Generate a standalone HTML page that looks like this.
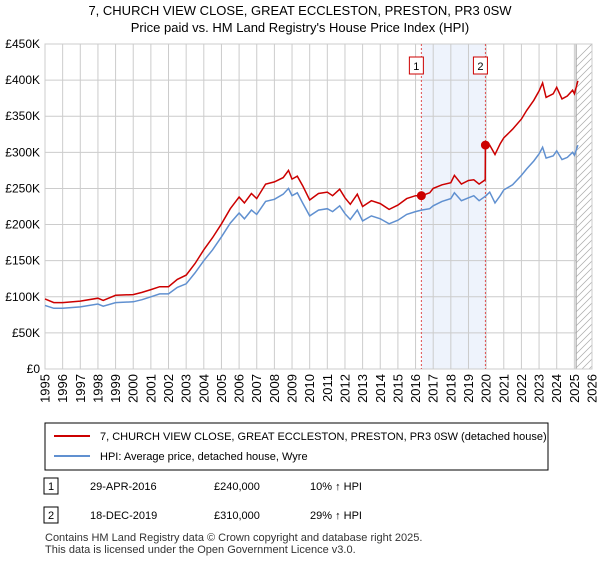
<!DOCTYPE html>
<html><head><meta charset="utf-8"><style>
body{margin:0;background:#fff;font-family:"Liberation Sans",sans-serif;}
svg text{font-family:"Liberation Sans",sans-serif;}
</style></head><body>
<svg width="600" height="560" id="c">
<text x="300" y="15" text-anchor="middle" font-size="13">7, CHURCH VIEW CLOSE, GREAT ECCLESTON, PRESTON, PR3 0SW</text>
<text x="300" y="32" text-anchor="middle" font-size="13">Price paid vs. HM Land Registry's House Price Index (HPI)</text>
<g id="grid"></g><g id="axes"></g><g id="series"></g>
<rect x="45" y="423" width="503" height="47" fill="#fff" stroke="#000"/>
<line x1="54" y1="436" x2="90" y2="436" stroke="#cc0000" stroke-width="2"/>
<text x="100" y="440" font-size="11">7, CHURCH VIEW CLOSE, GREAT ECCLESTON, PRESTON, PR3 0SW (detached house)</text>
<line x1="54" y1="456" x2="90" y2="456" stroke="#6090d0" stroke-width="2"/>
<text x="100" y="460" font-size="11">HPI: Average price, detached house, Wyre</text>
<rect x="44" y="478" width="14" height="16" fill="#fff" stroke="#000"/>
<text x="51" y="490" text-anchor="middle" font-size="11">1</text>
<text x="90" y="490" font-size="11">29-APR-2016</text>
<text x="214" y="490" font-size="11">£240,000</text>
<text x="310" y="490" font-size="11">10% ↑ HPI</text>
<rect x="44" y="507" width="14" height="16" fill="#fff" stroke="#000"/>
<text x="51" y="519" text-anchor="middle" font-size="11">2</text>
<text x="90" y="519" font-size="11">18-DEC-2019</text>
<text x="214" y="519" font-size="11">£310,000</text>
<text x="310" y="519" font-size="11">29% ↑ HPI</text>
<text x="45" y="541" font-size="11" fill="#333">Contains HM Land Registry data © Crown copyright and database right 2025.</text>
<text x="45" y="553" font-size="11" fill="#333">This data is licensed under the Open Government Licence v3.0.</text>
</svg>
<script>
const yTicks=[0,50,100,150,200,250,300,350,400,450];
const yLabels=["£0","£50K","£100K","£150K","£200K","£250K","£300K","£350K","£400K","£450K"];
const hpiT=[1995,1995.5,1996,1997,1998,1998.3,1999,2000,2000.5,2001,2001.5,2002,2002.5,2003,2003.5,2004,2004.5,2005,2005.5,2006,2006.3,2006.7,2007,2007.5,2008,2008.5,2008.8,2009,2009.3,2009.6,2010,2010.5,2011,2011.3,2011.7,2012,2012.3,2012.7,2013,2013.5,2014,2014.5,2015,2015.5,2016,2016.33,2016.8,2017,2017.5,2018,2018.2,2018.6,2019,2019.3,2019.6,2020,2020.2,2020.5,2020.8,2021,2021.5,2022,2022.3,2022.7,2023,2023.2,2023.4,2023.8,2024,2024.3,2024.6,2024.9,2025,2025.2];
const hpiV=[88,84,84,86,90,87,92,93,96,100,104,104,113,118,133,150,165,183,202,216,208,220,214,232,235,242,250,240,244,230,212,220,222,218,226,215,207,220,205,212,208,201,206,214,218,220,222,226,232,236,244,233,237,240,233,240,245,230,240,248,255,268,277,288,298,307,292,295,302,290,293,300,296,310];
const ppT=[1995,1995.5,1996,1997,1998,1998.3,1999,2000,2000.5,2001,2001.5,2002,2002.5,2003,2003.5,2004,2004.5,2005,2005.5,2006,2006.3,2006.7,2007,2007.5,2008,2008.5,2008.8,2009,2009.3,2009.6,2010,2010.5,2011,2011.3,2011.7,2012,2012.3,2012.7,2013,2013.5,2014,2014.5,2015,2015.5,2016,2016.33,2016.8,2017,2017.5,2018,2018.2,2018.6,2019,2019.3,2019.6,2019.95,2019.96,2020.2,2020.5,2020.8,2021,2021.5,2022,2022.3,2022.7,2023,2023.2,2023.4,2023.8,2024,2024.3,2024.6,2024.9,2025,2025.2];
const ppV=[97,92,92,94,98,95,102,103,106,110,114,114,124,130,146,165,182,201,222,238,230,243,236,256,259,265,275,263,267,254,234,243,245,240,249,237,228,242,225,233,229,221,227,236,240,240,244,250,255,258,268,256,261,262,256,262,310,310,297,312,320,332,346,358,372,385,396,376,381,390,374,378,386,381,399];
const salesT=[2016.33,2019.96];
const salesV=[240,310];
const X0=45,X1=592,Y0=369,Y1=44;
const x=t=>X0+(t-1995)/31*(X1-X0);
const y=v=>Y0-v/450*(Y0-Y1);
const NS="http://www.w3.org/2000/svg";
function mk(tag,parent,attrs){const e=document.createElementNS(NS,tag);for(const k in attrs)e.setAttribute(k,attrs[k]);document.getElementById(parent).appendChild(e);return e;}
let e=mk('rect','grid',{x:x(salesT[0]),y:Y1,width:x(salesT[1])-x(salesT[0]),height:Y0-Y1,fill:'#eef3fc'});


for(let yr=1995;yr<=2026;yr++){
 e=mk('line','grid',{x1:x(yr),x2:x(yr),y1:Y1,y2:Y0,stroke:'#ccc'});
 
 
 const lx=x(yr)+4.5,ly=374;
 e=mk('text','axes',{x:lx,y:ly,'text-anchor':'end','font-size':'13',transform:`rotate(-90 ${lx} ${ly})`});e.textContent=yr;
 
 
}
yTicks.forEach((v,i)=>{
 e=mk('line','grid',{x1:X0,x2:X1,y1:y(v),y2:y(v),stroke:'#ccc'});
 
 
 e=mk('text','axes',{x:40,y:y(v)+4,'text-anchor':'end','font-size':'12'});e.textContent=yLabels[i];
 
 
});
const hx=x(2025.1);
e=mk('rect','grid',{x:hx,y:Y1,width:X1-hx,height:Y0-Y1,fill:'#fff',stroke:'#999'});


for(let k=Y1;k<Y0+30;k+=7){
 const l=mk('line','grid',{x1:hx,y1:k+(X1-hx),x2:X1,y2:k,stroke:'#aaa','stroke-width':'0.7','clip-path':'url(#hc)'});
}
const cp=document.createElementNS(NS,'clipPath');cp.id='hc';const cr=document.createElementNS(NS,'rect');
cr.setAttribute('x',hx);cr.setAttribute('y',Y1);cr.setAttribute('width',X1-hx);cr.setAttribute('height',Y0-Y1);cp.appendChild(cr);document.getElementById('c').appendChild(cp);
e=mk('rect','axes',{x:X0,y:Y1,width:X1-X0,height:Y0-Y1,fill:'none',stroke:'#ccc'});


salesT.forEach((t,i)=>{
 e=mk('line','series',{x1:x(t),x2:x(t),y1:Y1,y2:Y0,stroke:'#e05050','stroke-dasharray':'2,2'});
 
 
 e=mk('rect','series',{x:x(t)-12,y:57,width:14,height:17,fill:'#fff',stroke:'#cc0000'});
 
 
 e=mk('text','series',{x:x(t)-5,y:70,'text-anchor':'middle','font-size':'11'});e.textContent=i+1;
});
function path(T,V){return T.map((t,i)=>(i?'L':'M')+x(t).toFixed(1)+','+y(V[i]).toFixed(1)).join('');}
e=mk('path','series',{d:path(hpiT,hpiV),fill:'none',stroke:'#6090d0','stroke-width':'1.5'});


e=mk('path','series',{d:path(ppT,ppV),fill:'none',stroke:'#cc0000','stroke-width':'1.5'});


salesT.forEach((t,i)=>{
 e=mk('circle','series',{cx:x(t),cy:y(salesV[i]),r:4.5,fill:'#cc0000'});
 
 
});
</script>
</body></html>
